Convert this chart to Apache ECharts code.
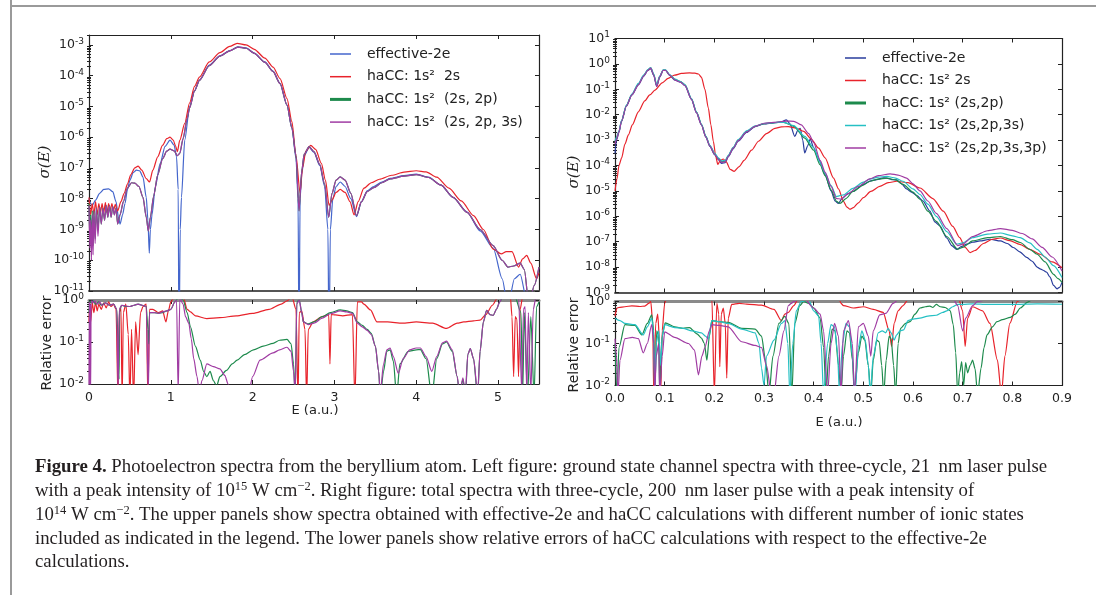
<!DOCTYPE html>
<html><head><meta charset="utf-8">
<script src="https://cdn.jsdelivr.net/npm/echarts@6/dist/echarts.min.js"></script>
<style>html,body{margin:0;padding:0;background:#fff}#c{width:1096px;height:595px}</style>
</head><body><div id="c"></div><script>
// ---------------- tick values ----------------
const LU_YTICKS = [1e-11,1e-10,1e-9,1e-8,1e-7,1e-6,1e-5,1e-4,1e-3];
const ERR_YTICKS = [1e-2,1e-1,1e0];
const RU_YTICKS = [1e-9,1e-8,1e-7,1e-6,1e-5,1e-4,1e-3,1e-2,1e-1,1e0,1e1];
const L_XTICKS = [0,1,2,3,4,5];
const R_XTICKS = [0,0.1,0.2,0.3,0.4,0.5,0.6,0.7,0.8,0.9];

// ---------------- legend names ----------------
const L_NAMES = ['effective-2e','haCC: 1s\u00b2  2s','haCC: 1s\u00b2  (2s, 2p)','haCC: 1s\u00b2  (2s, 2p, 3s)'];
const R_NAMES = ['effective-2e ','haCC: 1s\u00b2 2s','haCC: 1s\u00b2 (2s,2p)','haCC: 1s\u00b2 (2s,2p,3s)','haCC: 1s\u00b2 (2s,2p,3s,3p)'];

// ---------------- left upper: sigma(E), E in a.u. ----------------
const LU_EFF = [[0.00,1.0e-8],[0.02,7e-9],[0.04,6e-9],[0.08,9e-9],[0.13,1.5e-8],[0.18,2.0e-8],[0.24,2.1e-8],[0.29,1.7e-8],[0.33,8e-9],[0.36,2.5e-9],[0.38,1.5e-9],[0.41,3e-9],[0.44,7e-9],[0.47,2e-8],[0.50,4e-8],[0.54,7e-8],[0.58,8.5e-8],[0.62,8e-8],[0.66,5e-8],[0.70,1.1e-8],[0.72,2e-9],[0.737,1.7e-10],[0.75,1e-9],[0.77,3e-9],[0.81,2.4e-8],[0.87,1.4e-7],[0.93,5e-7],[0.99,8e-7],[1.04,5.5e-7],[1.07,2.3e-7],[1.09,2e-8],[1.10,1e-13],[1.115,1e-9],[1.13,1.1e-8],[1.17,8e-7],[1.23,1e-5],[1.29,3.2e-5],[1.35,7.2e-5],[1.47,2.2e-4],[1.60,4.4e-4],[1.72,6.5e-4],[1.82,8.7e-4],[1.92,8e-4],[2.02,5.4e-4],[2.15,2.8e-4],[2.25,1.4e-4],[2.335,5.6e-5],[2.42,1.1e-5],[2.48,2e-6],[2.53,2e-7],[2.555,1e-8],[2.567,1e-13],[2.58,1e-8],[2.60,6e-8],[2.63,2.5e-7],[2.69,4.7e-7],[2.75,3.2e-7],[2.82,1.2e-7],[2.88,2.5e-8],[2.92,1e-9],[2.934,1e-13],[2.95,1e-9],[2.98,1e-8],[3.02,2.5e-8],[3.07,3.5e-8],[3.13,2.5e-8],[3.20,1e-8],[3.27,2.6e-9],[3.33,8e-9],[3.40,1.8e-8],[3.48,2.5e-8],[3.58,3.5e-8],[3.68,4.6e-8],[3.85,5.6e-8],[4.00,6.3e-8],[4.15,5e-8],[4.30,2.8e-8],[4.45,1.1e-8],[4.62,3.7e-9],[4.78,9e-10],[4.94,2.5e-10],[5.05,2.5e-11],[5.12,3e-12],[5.20,2.5e-11],[5.27,3.5e-11],[5.35,5e-12],[5.42,1e-12],[5.50,6e-12]];
const LU_2S = [[0.00,1.1e-8],[0.02,3e-9],[0.04,7e-9],[0.06,3e-9],[0.08,8e-9],[0.10,3e-9],[0.12,7e-9],[0.14,3.5e-9],[0.16,7e-9],[0.18,3.5e-9],[0.20,7.5e-9],[0.22,3.5e-9],[0.24,7e-9],[0.26,4e-9],[0.28,7e-9],[0.30,4e-9],[0.32,6.5e-9],[0.35,4e-9],[0.39,8e-9],[0.43,1.5e-8],[0.47,3e-8],[0.51,6e-8],[0.56,1e-7],[0.60,1.15e-7],[0.645,8.5e-8],[0.70,4.5e-8],[0.74,3.5e-8],[0.78,8.5e-8],[0.84,2.3e-7],[0.90,5.5e-7],[0.95,9e-7],[0.99,1.0e-6],[1.03,8e-7],[1.06,5e-7],[1.08,3.4e-7],[1.11,8e-7],[1.17,2.8e-6],[1.23,1.3e-5],[1.29,4.5e-5],[1.35,9e-5],[1.47,2.8e-4],[1.60,5.6e-4],[1.72,8.9e-4],[1.81,1.13e-3],[1.92,1.0e-3],[2.02,7.2e-4],[2.15,3.7e-4],[2.25,1.9e-4],[2.335,8e-5],[2.42,1.8e-5],[2.48,3.2e-6],[2.53,2.5e-7],[2.58,1.5e-8],[2.61,1e-7],[2.65,3.5e-7],[2.71,5.4e-7],[2.77,4e-7],[2.84,1.4e-7],[2.89,4e-8],[2.935,6e-9],[2.97,9e-9],[3.02,1.6e-8],[3.07,2.0e-8],[3.13,1.6e-8],[3.19,8e-9],[3.24,3e-9],[3.29,8e-9],[3.36,2.2e-8],[3.45,3.3e-8],[3.55,4.3e-8],[3.70,5.8e-8],[3.85,7.3e-8],[4.00,8.1e-8],[4.12,7.5e-8],[4.25,5e-8],[4.40,2.2e-8],[4.55,8.5e-9],[4.70,2.8e-9],[4.82,1.0e-9],[4.94,2.3e-10],[5.04,1.6e-10],[5.10,1.9e-10],[5.17,1.9e-10],[5.25,6e-11],[5.30,1.1e-10],[5.35,1.45e-10],[5.40,8e-11],[5.47,2.5e-11],[5.50,4e-11]];
const LU_2S2P = [[0.00,7e-9],[0.01,5e-10],[0.02,3e-9],[0.03,2e-10],[0.04,4e-9],[0.05,3e-10],[0.06,4e-9],[0.075,5e-10],[0.09,5e-9],[0.11,1e-9],[0.13,5.5e-9],[0.15,1.5e-9],[0.17,5e-9],[0.19,2e-9],[0.21,6e-9],[0.23,2.5e-9],[0.25,6e-9],[0.27,2.5e-9],[0.29,5.5e-9],[0.31,3e-9],[0.33,5e-9],[0.35,1.5e-9],[0.38,3e-9],[0.42,8e-9],[0.47,2.2e-8],[0.52,3.3e-8],[0.56,3.2e-8],[0.61,2.5e-8],[0.66,1.1e-8],[0.70,2.5e-9],[0.725,9e-10],[0.75,2.5e-9],[0.79,1.2e-8],[0.84,6e-8],[0.90,2e-7],[0.95,3.5e-7],[0.99,4.1e-7],[1.04,3.6e-7],[1.08,2.5e-7],[1.11,3e-7],[1.15,9e-7],[1.20,4e-6],[1.23,9e-6],[1.29,3.2e-5],[1.35,7e-5],[1.47,2.1e-4],[1.60,4.3e-4],[1.72,6.4e-4],[1.82,8.5e-4],[1.92,7.8e-4],[2.02,5.3e-4],[2.15,2.7e-4],[2.25,1.35e-4],[2.335,5.5e-5],[2.42,1.1e-5],[2.48,2e-6],[2.53,2.5e-7],[2.567,4e-9],[2.60,8e-8],[2.63,2.8e-7],[2.69,4.9e-7],[2.75,3.4e-7],[2.82,1.3e-7],[2.88,3e-8],[2.93,2.5e-9],[2.97,1.5e-8],[3.02,4e-8],[3.07,5.1e-8],[3.13,4e-8],[3.20,1.5e-8],[3.27,2.8e-9],[3.33,8e-9],[3.40,1.7e-8],[3.48,2.3e-8],[3.58,3.3e-8],[3.68,4.4e-8],[3.85,5.4e-8],[4.00,6.1e-8],[4.15,4.9e-8],[4.30,2.8e-8],[4.45,1.1e-8],[4.62,3.6e-9],[4.78,1e-9],[4.94,3e-10],[5.05,1e-10],[5.12,6e-11],[5.19,6.5e-11],[5.27,8e-11],[5.32,5e-11],[5.38,3e-12],[5.44,1.5e-11],[5.50,6e-11]];
const LU_2S2P3S = [[0.00,6e-9],[0.01,2.5e-10],[0.02,2e-9],[0.03,1e-10],[0.04,3e-9],[0.05,1.5e-10],[0.06,4e-9],[0.075,3.5e-10],[0.09,5e-9],[0.11,6e-10],[0.13,5.5e-9],[0.15,1.5e-9],[0.17,5e-9],[0.19,2e-9],[0.21,6e-9],[0.23,2.5e-9],[0.25,6e-9],[0.27,2.5e-9],[0.29,5.5e-9],[0.31,3e-9],[0.33,5e-9],[0.35,1.5e-9],[0.38,3e-9],[0.42,8e-9],[0.47,2.2e-8],[0.52,3.3e-8],[0.56,3.2e-8],[0.61,2.5e-8],[0.66,1.1e-8],[0.70,2.5e-9],[0.725,9e-10],[0.75,2.5e-9],[0.79,1.2e-8],[0.84,6e-8],[0.90,2e-7],[0.95,3.5e-7],[0.99,4.1e-7],[1.04,3.6e-7],[1.08,2.5e-7],[1.11,3e-7],[1.15,9e-7],[1.20,4e-6],[1.23,9e-6],[1.29,3.2e-5],[1.35,7e-5],[1.47,2.1e-4],[1.60,4.3e-4],[1.72,6.4e-4],[1.82,8.5e-4],[1.92,7.8e-4],[2.02,5.3e-4],[2.15,2.7e-4],[2.25,1.35e-4],[2.335,5.5e-5],[2.42,1.1e-5],[2.48,2e-6],[2.53,2.5e-7],[2.567,4e-9],[2.60,8e-8],[2.63,2.8e-7],[2.69,4.9e-7],[2.75,3.4e-7],[2.82,1.3e-7],[2.88,3e-8],[2.93,2.5e-9],[2.97,1.5e-8],[3.02,4e-8],[3.07,5.1e-8],[3.13,4e-8],[3.20,1.5e-8],[3.27,2.8e-9],[3.33,8e-9],[3.40,1.7e-8],[3.48,2.3e-8],[3.58,3.3e-8],[3.68,4.4e-8],[3.85,5.4e-8],[4.00,6.1e-8],[4.15,4.9e-8],[4.30,2.8e-8],[4.45,1.1e-8],[4.62,3.6e-9],[4.78,1e-9],[4.94,3e-10],[5.05,1e-10],[5.12,6e-11],[5.19,6.5e-11],[5.27,8e-11],[5.32,5e-11],[5.38,3e-12],[5.44,1.5e-11],[5.50,6e-11]];

// ---------------- left lower: relative error ----------------
const LL_2S = [[0.00,0.3],[0.01,0.9],[0.02,0.3],[0.04,0.85],[0.06,0.5],[0.08,0.9],[0.10,0.55],[0.12,0.8],[0.15,0.6],[0.18,0.85],[0.21,0.65],[0.24,0.9],[0.27,0.7],[0.30,0.8],[0.33,0.6],[0.355,0.004],[0.37,0.5],[0.39,0.7],[0.405,0.004],[0.42,0.5],[0.45,0.8],[0.48,0.15],[0.50,0.004],[0.52,0.2],[0.545,0.004],[0.57,0.3],[0.60,0.05],[0.63,0.5],[0.66,0.7],[0.70,0.8],[0.72,0.004],[0.74,0.6],[0.78,0.6],[0.85,0.5],[0.90,0.55],[0.94,0.3],[0.97,0.55],[1.00,0.9],[1.05,1.3],[1.10,1.5],[1.15,1.2],[1.20,0.6],[1.24,0.52],[1.30,0.42],[1.44,0.36],[1.60,0.38],[1.80,0.42],[2.00,0.48],[2.20,0.6],[2.35,0.8],[2.42,0.95],[2.48,1.2],[2.53,0.6],[2.555,0.004],[2.57,0.5],[2.60,0.55],[2.64,0.2],[2.66,0.004],[2.68,0.2],[2.74,0.3],[2.85,0.4],[2.93,0.45],[2.945,0.03],[2.96,0.45],[3.01,0.44],[3.10,0.42],[3.22,0.45],[3.25,0.004],[3.28,0.9],[3.33,0.9],[3.36,0.8],[3.44,0.58],[3.52,0.3],[3.65,0.3],[3.83,0.28],[4.00,0.3],[4.20,0.28],[4.37,0.21],[4.50,0.28],[4.58,0.3],[4.70,0.32],[4.78,0.33],[4.85,0.45],[4.93,0.75],[4.99,1.1],[5.10,1.5],[5.15,1.2],[5.17,0.4],[5.19,0.015],[5.21,0.4],[5.23,0.35],[5.25,0.015],[5.27,0.6],[5.30,1.2],[5.50,1.4]];
const LL_2S2P = [[0.00,0.5],[0.01,0.95],[0.03,0.85],[0.05,0.95],[0.08,0.8],[0.12,0.9],[0.15,0.75],[0.20,0.85],[0.25,0.75],[0.30,0.8],[0.34,0.6],[0.36,0.04],[0.367,0.013],[0.375,0.6],[0.40,0.75],[0.45,0.7],[0.50,0.7],[0.55,0.75],[0.60,0.8],[0.65,0.75],[0.70,0.7],[0.72,0.2],[0.73,0.09],[0.74,0.5],[0.80,0.5],[0.85,0.48],[0.90,0.5],[0.95,0.55],[1.00,0.6],[1.05,0.9],[1.10,1.2],[1.15,1.0],[1.20,0.5],[1.24,0.23],[1.30,0.08],[1.36,0.037],[1.40,0.02],[1.44,0.015],[1.48,0.02],[1.52,0.012],[1.56,0.009],[1.60,0.015],[1.68,0.021],[1.75,0.03],[1.81,0.037],[1.90,0.05],[2.01,0.065],[2.13,0.08],[2.25,0.093],[2.33,0.11],[2.42,0.115],[2.47,0.09],[2.50,0.03],[2.52,0.005],[2.54,0.9],[2.57,1.0],[2.60,0.5],[2.62,0.3],[2.68,0.27],[2.75,0.3],[2.85,0.4],[2.95,0.5],[3.07,0.58],[3.15,0.55],[3.22,0.5],[3.28,0.3],[3.34,0.25],[3.40,0.2],[3.45,0.16],[3.50,0.08],[3.54,0.02],[3.56,0.005],[3.60,0.02],[3.64,0.06],[3.68,0.065],[3.72,0.035],[3.76,0.005],[3.80,0.03],[3.90,0.06],[4.00,0.065],[4.05,0.066],[4.12,0.04],[4.19,0.005],[4.25,0.04],[4.32,0.09],[4.37,0.1],[4.44,0.06],[4.50,0.015],[4.53,0.005],[4.57,0.013],[4.60,0.005],[4.63,0.05],[4.66,0.07],[4.70,0.04],[4.75,0.005],[4.78,0.06],[4.82,0.3],[4.86,0.57],[4.90,0.45],[4.94,0.43],[4.98,0.6],[5.02,0.9],[5.06,1.2],[5.20,1.3],[5.28,0.5],[5.30,0.005],[5.32,0.5],[5.36,0.005],[5.40,0.4],[5.44,0.005],[5.47,0.7],[5.50,0.9]];
const LL_2S2P3S = [[0.00,0.006],[0.005,0.9],[0.01,0.006],[0.015,0.8],[0.02,0.006],[0.025,0.85],[0.035,0.95],[0.05,0.85],[0.07,0.95],[0.10,0.8],[0.13,0.9],[0.16,0.75],[0.20,0.85],[0.25,0.75],[0.30,0.8],[0.34,0.6],[0.355,0.006],[0.37,0.6],[0.40,0.75],[0.45,0.72],[0.50,0.7],[0.55,0.75],[0.60,0.8],[0.65,0.75],[0.70,0.7],[0.725,0.006],[0.74,0.5],[0.80,0.5],[0.85,0.48],[0.90,0.52],[0.95,0.55],[1.00,0.6],[1.05,0.9],[1.07,1.0],[1.09,0.006],[1.11,1.1],[1.15,0.8],[1.18,0.4],[1.22,0.28],[1.25,0.12],[1.28,0.04],[1.32,0.015],[1.35,0.006],[1.38,0.012],[1.44,0.03],[1.52,0.026],[1.60,0.023],[1.66,0.016],[1.70,0.01],[1.74,0.006],[1.95,0.006],[2.00,0.015],[2.09,0.037],[2.25,0.055],[2.33,0.065],[2.42,0.075],[2.47,0.06],[2.50,0.02],[2.52,0.006],[2.54,0.8],[2.57,1.0],[2.60,0.5],[2.62,0.3],[2.68,0.26],[2.75,0.28],[2.85,0.37],[2.95,0.47],[3.07,0.55],[3.15,0.52],[3.22,0.48],[3.28,0.28],[3.34,0.23],[3.40,0.19],[3.45,0.15],[3.50,0.08],[3.54,0.02],[3.56,0.006],[3.60,0.03],[3.64,0.065],[3.68,0.072],[3.72,0.045],[3.78,0.018],[3.84,0.04],[3.92,0.065],[4.00,0.072],[4.05,0.072],[4.12,0.045],[4.19,0.02],[4.25,0.045],[4.32,0.095],[4.37,0.105],[4.44,0.065],[4.50,0.015],[4.53,0.006],[4.57,0.014],[4.60,0.006],[4.63,0.05],[4.66,0.07],[4.70,0.04],[4.75,0.006],[4.78,0.06],[4.82,0.3],[4.86,0.57],[4.90,0.45],[4.94,0.43],[4.98,0.6],[5.02,0.9],[5.06,1.2],[5.25,1.2],[5.29,0.006],[5.31,0.6],[5.33,0.7],[5.35,0.006],[5.37,0.5],[5.40,0.006],[5.43,0.6],[5.46,1.1],[5.50,1.2]];

// ---------------- right upper: sigma(E) ----------------
const RU_EFF = [[0.000,3e-4],[0.003,1e-3],[0.008,2e-3],[0.013,5.4e-3],[0.023,2.2e-2],[0.034,6e-2],[0.047,0.15],[0.058,0.33],[0.066,0.55],[0.072,0.65],[0.078,0.35],[0.084,0.13],[0.090,0.3],[0.097,0.55],[0.102,0.55],[0.110,0.35],[0.121,0.23],[0.132,0.19],[0.141,0.14],[0.154,0.04],[0.164,0.012],[0.174,4e-3],[0.183,1.3e-3],[0.191,5.6e-4],[0.201,2.6e-4],[0.208,1.7e-4],[0.215,1.2e-4],[0.222,1.3e-4],[0.228,2.2e-4],[0.238,4.5e-4],[0.248,9e-4],[0.265,2e-3],[0.282,3.4e-3],[0.300,4.3e-3],[0.320,4.8e-3],[0.335,5.2e-3],[0.345,6.3e-3],[0.352,4.5e-3],[0.362,1.4e-3],[0.368,2.4e-3],[0.373,2.9e-3],[0.378,1e-3],[0.382,3.1e-4],[0.388,6e-4],[0.393,1.1e-3],[0.400,5e-4],[0.409,2e-4],[0.423,4.4e-5],[0.435,1e-5],[0.443,4e-6],[0.450,3.2e-6],[0.457,5e-6],[0.468,7.5e-6],[0.479,9.5e-6],[0.500,1.8e-5],[0.515,2.5e-5],[0.527,2.8e-5],[0.540,3.3e-5],[0.547,3.2e-5],[0.557,2.8e-5],[0.567,2.7e-5],[0.577,1.9e-5],[0.587,1.2e-5],[0.597,9e-6],[0.608,6.5e-6],[0.620,4e-6],[0.634,1.6e-6],[0.644,6e-7],[0.654,4.2e-7],[0.668,1.4e-7],[0.678,7e-8],[0.688,5e-8],[0.698,6.5e-8],[0.708,8e-8],[0.720,9.5e-8],[0.735,1.07e-7],[0.755,1.25e-7],[0.776,1.07e-7],[0.790,8.5e-8],[0.802,5.9e-8],[0.815,4e-8],[0.829,2.4e-8],[0.840,1.7e-8],[0.850,1e-8],[0.856,8.5e-9],[0.862,7.5e-9],[0.869,6.3e-9],[0.876,4e-9],[0.883,1.9e-9],[0.890,1.4e-9],[0.895,1.6e-9],[0.900,2.5e-9]];
const RU_2S = [[0.000,1e-5],[0.004,3e-5],[0.008,1e-4],[0.0134,2e-4],[0.020,7e-4],[0.027,1.6e-3],[0.035,4e-3],[0.047,1.3e-2],[0.060,3.5e-2],[0.070,6e-2],[0.0805,9.3e-2],[0.095,0.18],[0.107,0.27],[0.120,0.36],[0.134,0.42],[0.150,0.44],[0.161,0.43],[0.168,0.4],[0.174,0.3],[0.181,0.1],[0.188,0.018],[0.193,4e-3],[0.198,9e-4],[0.203,2.2e-4],[0.207,1.1e-4],[0.212,1.6e-4],[0.218,1.8e-4],[0.224,1.4e-4],[0.232,7e-5],[0.240,5.9e-5],[0.250,9e-5],[0.260,1.6e-4],[0.275,4e-4],[0.289,9e-4],[0.305,1.8e-3],[0.322,2.9e-3],[0.335,3.3e-3],[0.349,3.4e-3],[0.365,3e-3],[0.380,2.2e-3],[0.395,1.1e-3],[0.410,4.8e-4],[0.423,2e-4],[0.440,3.2e-5],[0.450,1.2e-5],[0.460,3.9e-6],[0.467,2.3e-6],[0.473,1.9e-6],[0.480,2.2e-6],[0.490,3.4e-6],[0.500,5.4e-6],[0.515,9.5e-6],[0.533,1.5e-5],[0.550,2.1e-5],[0.567,2.4e-5],[0.590,2.1e-5],[0.614,1.3e-5],[0.640,5e-6],[0.661,1.6e-6],[0.680,4e-7],[0.694,1.45e-7],[0.705,6e-8],[0.715,3.7e-8],[0.725,4.5e-8],[0.742,8.5e-8],[0.760,1.25e-7],[0.776,1.4e-7],[0.795,1.1e-7],[0.815,7.9e-8],[0.835,5e-8],[0.856,3.2e-8],[0.880,1.6e-8],[0.900,9.5e-9]];
const RU_2S2P = [[0.000,8e-4],[0.003,1.2e-3],[0.008,2.2e-3],[0.013,5.6e-3],[0.023,2.3e-2],[0.034,6.2e-2],[0.047,0.16],[0.058,0.35],[0.066,0.58],[0.072,0.7],[0.078,0.38],[0.084,0.14],[0.090,0.32],[0.097,0.57],[0.102,0.57],[0.110,0.37],[0.121,0.24],[0.132,0.2],[0.141,0.15],[0.154,0.042],[0.164,0.013],[0.174,4.2e-3],[0.183,1.4e-3],[0.191,6e-4],[0.201,2.8e-4],[0.208,1.9e-4],[0.215,1.4e-4],[0.222,1.5e-4],[0.228,2.4e-4],[0.238,5e-4],[0.248,1e-3],[0.265,2.2e-3],[0.282,3.5e-3],[0.300,4.4e-3],[0.320,4.9e-3],[0.340,5e-3],[0.360,3.5e-3],[0.382,1.2e-3],[0.400,4e-4],[0.413,1.07e-4],[0.423,4e-5],[0.435,1.1e-5],[0.446,3.9e-6],[0.453,3.2e-6],[0.465,5e-6],[0.479,9.5e-6],[0.500,1.7e-5],[0.513,2.4e-5],[0.530,2.9e-5],[0.547,3.2e-5],[0.565,2.7e-5],[0.580,1.8e-5],[0.600,9e-6],[0.614,4.7e-6],[0.630,1.6e-6],[0.647,6.3e-7],[0.668,1.6e-7],[0.690,5e-8],[0.700,6e-8],[0.720,1.07e-7],[0.750,1.45e-7],[0.776,1.6e-7],[0.800,1.2e-7],[0.816,9.3e-8],[0.835,5e-8],[0.850,3.2e-8],[0.866,1.6e-8],[0.883,5.2e-9],[0.892,3.5e-9],[0.900,2.5e-9]];
const RU_2S2P3S = [[0.000,9e-4],[0.003,1.3e-3],[0.008,2.3e-3],[0.013,5.8e-3],[0.023,2.4e-2],[0.034,6.4e-2],[0.047,0.17],[0.058,0.37],[0.066,0.6],[0.072,0.72],[0.078,0.4],[0.084,0.15],[0.090,0.33],[0.097,0.58],[0.102,0.58],[0.110,0.38],[0.121,0.25],[0.132,0.2],[0.141,0.15],[0.154,0.043],[0.164,0.013],[0.174,4.3e-3],[0.183,1.4e-3],[0.191,6.2e-4],[0.201,3e-4],[0.208,2e-4],[0.215,1.5e-4],[0.222,1.6e-4],[0.228,2.5e-4],[0.238,5.2e-4],[0.248,1.05e-3],[0.265,2.3e-3],[0.282,3.6e-3],[0.300,4.5e-3],[0.320,4.9e-3],[0.340,5e-3],[0.360,3.7e-3],[0.382,1.4e-3],[0.400,5e-4],[0.413,1.3e-4],[0.423,5e-5],[0.435,1.6e-5],[0.446,6e-6],[0.453,6.5e-6],[0.460,7e-6],[0.479,1.26e-5],[0.500,2.2e-5],[0.513,2.9e-5],[0.530,3.5e-5],[0.547,3.7e-5],[0.565,3.2e-5],[0.580,2.4e-5],[0.600,1.2e-5],[0.614,7.2e-6],[0.630,3e-6],[0.647,1e-6],[0.668,2.5e-7],[0.688,8e-8],[0.700,9e-8],[0.720,1.45e-7],[0.750,2e-7],[0.776,2.2e-7],[0.800,1.7e-7],[0.816,1.45e-7],[0.835,9e-8],[0.850,5e-8],[0.866,2.5e-8],[0.883,1.15e-8],[0.900,3.9e-9]];
const RU_2S2P3S3P = [[0.000,7e-4],[0.003,1.1e-3],[0.008,2.1e-3],[0.013,5.5e-3],[0.023,2.2e-2],[0.034,6e-2],[0.047,0.15],[0.058,0.34],[0.066,0.56],[0.072,0.68],[0.078,0.36],[0.084,0.13],[0.090,0.31],[0.097,0.56],[0.102,0.56],[0.110,0.36],[0.121,0.23],[0.132,0.19],[0.141,0.14],[0.154,0.04],[0.164,0.012],[0.174,4e-3],[0.183,1.3e-3],[0.191,5.8e-4],[0.201,2.7e-4],[0.208,1.8e-4],[0.215,1.3e-4],[0.222,1.4e-4],[0.228,2.3e-4],[0.238,4.8e-4],[0.248,9.5e-4],[0.265,2.1e-3],[0.282,3.5e-3],[0.300,4.6e-3],[0.320,5e-3],[0.345,5.6e-3],[0.360,5.5e-3],[0.375,4e-3],[0.390,1.8e-3],[0.400,8e-4],[0.413,1.6e-4],[0.423,5.5e-5],[0.435,1.5e-5],[0.446,5e-6],[0.455,4.8e-6],[0.470,8e-6],[0.490,1.5e-5],[0.513,3e-5],[0.530,4e-5],[0.554,4.7e-5],[0.570,4.2e-5],[0.587,3.2e-5],[0.600,1.9e-5],[0.614,1e-5],[0.630,4e-6],[0.647,1.3e-6],[0.668,3.3e-7],[0.690,7e-8],[0.700,8e-8],[0.720,1.6e-7],[0.750,2.7e-7],[0.776,3.3e-7],[0.800,2.8e-7],[0.820,2.1e-7],[0.840,1.3e-7],[0.860,6e-8],[0.880,2.5e-8],[0.900,7e-9]];

// ---------------- right lower: relative error ----------------
const RL_2S = [[0.000,0.45],[0.004,0.7],[0.008,0.72],[0.020,0.75],[0.034,0.79],[0.050,0.76],[0.060,0.78],[0.068,0.9],[0.072,1.0],[0.076,0.3],[0.078,0.006],[0.082,0.3],[0.086,0.5],[0.090,0.1],[0.092,0.006],[0.095,0.2],[0.100,0.9],[0.104,1.2],[0.120,1.5],[0.160,1.5],[0.195,1.2],[0.200,0.006],[0.205,0.9],[0.209,0.5],[0.211,0.028],[0.214,0.5],[0.218,0.7],[0.222,0.3],[0.225,0.015],[0.228,0.4],[0.235,0.85],[0.250,0.9],[0.265,0.87],[0.295,0.82],[0.320,0.65],[0.335,0.35],[0.342,0.5],[0.349,0.55],[0.360,0.8],[0.370,1.2],[0.400,1.5],[0.450,1.3],[0.455,0.9],[0.460,0.8],[0.480,0.7],[0.500,0.75],[0.520,0.65],[0.540,0.55],[0.552,0.2],[0.557,0.085],[0.562,0.3],[0.570,0.6],[0.580,0.8],[0.590,1.1],[0.620,1.5],[0.690,1.4],[0.700,0.6],[0.705,0.085],[0.710,0.4],[0.720,0.75],[0.740,0.6],[0.755,0.3],[0.770,0.04],[0.778,0.006],[0.785,0.05],[0.795,0.3],[0.810,1.0],[0.830,1.5],[0.900,1.5]];
const RL_2S2P = [[0.000,0.1],[0.004,0.006],[0.008,0.08],[0.020,0.28],[0.040,0.27],[0.054,0.16],[0.065,0.3],[0.074,0.48],[0.078,0.2],[0.080,0.006],[0.084,0.2],[0.088,0.15],[0.090,0.006],[0.095,0.15],[0.101,0.31],[0.120,0.25],[0.137,0.23],[0.150,0.24],[0.165,0.17],[0.174,0.135],[0.180,0.1],[0.185,0.04],[0.190,0.15],[0.195,0.35],[0.210,0.33],[0.228,0.32],[0.255,0.23],[0.282,0.22],[0.295,0.15],[0.303,0.04],[0.310,0.006],[0.318,0.05],[0.330,0.3],[0.342,0.44],[0.350,0.3],[0.356,0.006],[0.362,0.3],[0.372,0.8],[0.380,1.0],[0.390,0.9],[0.400,0.7],[0.413,0.4],[0.420,0.08],[0.425,0.006],[0.430,0.05],[0.437,0.22],[0.443,0.2],[0.450,0.03],[0.455,0.006],[0.460,0.05],[0.467,0.2],[0.472,0.18],[0.478,0.04],[0.482,0.006],[0.490,0.06],[0.497,0.15],[0.503,0.12],[0.510,0.03],[0.515,0.006],[0.520,0.04],[0.527,0.12],[0.532,0.11],[0.537,0.03],[0.541,0.006],[0.546,0.04],[0.552,0.15],[0.556,0.13],[0.561,0.03],[0.565,0.006],[0.570,0.1],[0.575,0.23],[0.585,0.3],[0.594,0.33],[0.604,0.5],[0.614,0.7],[0.625,0.75],[0.634,0.78],[0.640,0.72],[0.647,0.85],[0.655,0.75],[0.665,0.72],[0.675,0.6],[0.681,0.28],[0.686,0.06],[0.690,0.006],[0.694,0.02],[0.698,0.037],[0.702,0.01],[0.706,0.035],[0.710,0.02],[0.715,0.03],[0.720,0.04],[0.725,0.025],[0.730,0.006],[0.737,0.026],[0.743,0.08],[0.749,0.16],[0.760,0.25],[0.769,0.33],[0.780,0.37],[0.796,0.42],[0.806,0.5],[0.816,0.7],[0.830,0.95],[0.840,1.1],[0.900,1.3]];
const RL_2S2P3S = [[0.000,0.4],[0.010,0.35],[0.020,0.3],[0.040,0.28],[0.057,0.16],[0.065,0.25],[0.074,0.4],[0.078,0.15],[0.080,0.006],[0.083,0.1],[0.088,0.2],[0.092,0.03],[0.095,0.15],[0.100,0.28],[0.120,0.24],[0.137,0.23],[0.155,0.2],[0.174,0.18],[0.182,0.15],[0.188,0.13],[0.195,0.35],[0.210,0.33],[0.228,0.3],[0.255,0.22],[0.282,0.18],[0.290,0.1],[0.295,0.026],[0.300,0.01],[0.305,0.05],[0.320,0.12],[0.335,0.3],[0.342,0.35],[0.348,0.1],[0.352,0.006],[0.358,0.1],[0.365,0.6],[0.375,1.0],[0.390,1.1],[0.400,0.6],[0.410,0.45],[0.415,0.1],[0.420,0.006],[0.428,0.1],[0.435,0.28],[0.442,0.25],[0.448,0.06],[0.452,0.006],[0.458,0.1],[0.465,0.3],[0.472,0.25],[0.478,0.05],[0.483,0.006],[0.490,0.08],[0.497,0.2],[0.504,0.12],[0.510,0.03],[0.514,0.006],[0.520,0.05],[0.530,0.18],[0.538,0.2],[0.545,0.18],[0.550,0.23],[0.556,0.18],[0.562,0.12],[0.567,0.16],[0.574,0.2],[0.581,0.21],[0.590,0.35],[0.600,0.38],[0.614,0.4],[0.630,0.45],[0.647,0.47],[0.660,0.55],[0.668,0.6],[0.680,0.75],[0.690,0.85],[0.700,0.85],[0.720,0.88],[0.750,0.85],[0.800,0.85],[0.850,0.88],[0.900,0.86]];
const RL_2S2P3S3P = [[0.000,0.13],[0.003,0.05],[0.006,0.006],[0.010,0.04],[0.020,0.13],[0.035,0.14],[0.047,0.13],[0.057,0.06],[0.065,0.1],[0.074,0.28],[0.078,0.1],[0.080,0.006],[0.083,0.05],[0.088,0.1],[0.090,0.006],[0.095,0.05],[0.100,0.19],[0.120,0.14],[0.148,0.1],[0.160,0.07],[0.168,0.018],[0.175,0.05],[0.181,0.08],[0.190,0.2],[0.195,0.28],[0.210,0.27],[0.228,0.25],[0.255,0.11],[0.282,0.09],[0.295,0.08],[0.305,0.03],[0.315,0.006],[0.320,0.006],[0.330,0.05],[0.340,0.2],[0.349,0.8],[0.355,0.9],[0.360,1.0],[0.380,1.2],[0.400,0.7],[0.413,0.5],[0.420,0.2],[0.428,0.006],[0.435,0.1],[0.442,0.3],[0.450,0.15],[0.455,0.006],[0.460,0.2],[0.470,0.35],[0.478,0.1],[0.482,0.006],[0.490,0.25],[0.500,0.3],[0.510,0.15],[0.515,0.05],[0.520,0.2],[0.533,0.48],[0.545,0.52],[0.560,0.9],[0.570,1.1],[0.600,1.3],[0.680,1.2],[0.690,0.8],[0.700,0.2],[0.706,0.4],[0.720,0.8],[0.730,1.0],[0.760,1.2],[0.900,1.3]];

// ---------------- colours ----------------
const C_BLUE_L = '#4466cc', C_BLUE_R = '#283c9c', C_RED = '#e8232b', C_GREEN = '#1d8a4c', C_PURPLE = '#a03ca3', C_CYAN = '#26c0c4';
const INK = '#222';
const FONT = 'DejaVu Sans';

function minorVals(lo, hi) {
  const a = [];
  for (let e = lo; e < hi; e++) for (let k = 2; k <= 9; k++) a.push(k * Math.pow(10, e));
  return a;
}
const logRich = {
  b: {fontSize: 12.5, fontFamily: FONT, color: INK, lineHeight: 16},
  s: {fontSize: 9, fontFamily: FONT, color: INK, lineHeight: 9, verticalAlign: 'top'}
};
function logFmt(v) { return '{b|10}{s|' + Math.round(Math.log10(v)) + '}'; }

function xPair(grid, min, max, ticks, labels, fmt, bottomLine, topLine) {
  return [
    {type: 'value', gridIndex: grid, position: 'bottom', min: min, max: max, interval: ticks[1] - ticks[0],
     axisLine: {show: true, onZero: false, lineStyle: bottomLine},
     axisTick: {show: true, inside: true, length: 4, lineStyle: {color: INK}, customValues: ticks},
     axisLabel: {show: labels, customValues: ticks, formatter: fmt, fontFamily: FONT, fontSize: 12.5, color: INK, margin: 7},
     splitLine: {show: false}},
    {type: 'value', gridIndex: grid, position: 'top', min: min, max: max, interval: ticks[1] - ticks[0],
     axisLine: {show: true, onZero: false, lineStyle: topLine},
     axisTick: {show: true, inside: true, length: 4, lineStyle: {color: INK}, customValues: ticks},
     axisLabel: {show: false}, splitLine: {show: false}}
  ];
}
function yQuad(grid, min, max, ticks, lo, hi) {
  const minors = minorVals(lo, hi).filter(v => v > min * 1.0001 && v < max * 0.9999);
  const line = {color: INK, width: 1.2};
  const base = {type: 'log', logBase: 10, gridIndex: grid, min: min, max: max, splitNumber: 10, splitLine: {show: false}};
  return [
    Object.assign({}, base, {position: 'left', axisLine: {show: true, onZero: false, lineStyle: line},
      axisTick: {show: true, inside: true, length: 4, lineStyle: {color: INK}, customValues: ticks},
      axisLabel: {show: true, customValues: ticks, formatter: logFmt, rich: logRich, margin: 5}}),
    Object.assign({}, base, {position: 'left', axisLine: {show: false},
      axisTick: {show: true, inside: true, length: 2, lineStyle: {color: INK}, customValues: minors},
      axisLabel: {show: false}}),
    Object.assign({}, base, {position: 'right', axisLine: {show: true, onZero: false, lineStyle: line},
      axisTick: {show: true, inside: true, length: 4, lineStyle: {color: INK}, customValues: ticks},
      axisLabel: {show: false}}),
    Object.assign({}, base, {position: 'right', axisLine: {show: false},
      axisTick: {show: true, inside: true, length: 2, lineStyle: {color: INK}, customValues: minors},
      axisLabel: {show: false}})
  ];
}
const thin = {color: INK, width: 1.2};
const upperBottom = {color: '#555', width: 2};
const lowerTop = {color: '#8a8a8a', width: 3};
const intFmt = v => String(Math.round(v));
const decFmt = v => v.toFixed(1);

const xAxis = [].concat(
  xPair(0, 0, 5.5, L_XTICKS, false, intFmt, upperBottom, thin),
  xPair(1, 0, 5.5, L_XTICKS, true, intFmt, thin, lowerTop),
  xPair(2, 0, 0.9, R_XTICKS, false, decFmt, upperBottom, thin),
  xPair(3, 0, 0.9, R_XTICKS, true, decFmt, thin, lowerTop)
);
const yAxis = [].concat(
  yQuad(0, 1e-11, 2.1e-3, LU_YTICKS, -11, -2),
  yQuad(1, 1e-2, 1, ERR_YTICKS, -2, 0),
  yQuad(2, 1e-9, 10, RU_YTICKS, -9, 1),
  yQuad(3, 1e-2, 1, ERR_YTICKS, -2, 0)
);

function line(name, data, color, xi, yi, width) {
  return {type: 'line', name: name, data: data, xAxisIndex: xi, yAxisIndex: yi,
    showSymbol: false, symbol: 'none', smooth: 0.25, smoothMonotone: 'x', clip: true,
    lineStyle: {color: color, width: width || 1.2}, itemStyle: {color: color}, emphasis: {disabled: true}, animation: false};
}
const series = [
  line(L_NAMES[0], LU_EFF, C_BLUE_L, 0, 0),
  line(L_NAMES[1], LU_2S, C_RED, 0, 0),
  line(L_NAMES[2], LU_2S2P, C_GREEN, 0, 0),
  line(L_NAMES[3], LU_2S2P3S, C_PURPLE, 0, 0),
  line('err-L-2s', LL_2S, C_RED, 2, 4),
  line('err-L-2s2p', LL_2S2P, C_GREEN, 2, 4),
  line('err-L-2s2p3s', LL_2S2P3S, C_PURPLE, 2, 4),
  line(R_NAMES[0], RU_EFF, C_BLUE_R, 4, 8),
  line(R_NAMES[1], RU_2S, C_RED, 4, 8),
  line(R_NAMES[2], RU_2S2P, C_GREEN, 4, 8),
  line(R_NAMES[3], RU_2S2P3S, C_CYAN, 4, 8),
  line(R_NAMES[4], RU_2S2P3S3P, C_PURPLE, 4, 8),
  line('err-R-2s', RL_2S, C_RED, 6, 12),
  line('err-R-2s2p', RL_2S2P, C_GREEN, 6, 12),
  line('err-R-2s2p3s', RL_2S2P3S, C_CYAN, 6, 12),
  line('err-R-2s2p3s3p', RL_2S2P3S3P, C_PURPLE, 6, 12)
];

const legendText = {fontFamily: FONT, fontSize: 14, color: INK, lineHeight: 16, padding: [0, 0, 0, 11]};
function legendData(names) {
  return names.map(n => ({name: n, icon: (n.indexOf('(2s, 2p)') >= 0 || n.indexOf('(2s,2p)') >= 0) ? 'path://M0,0L21,0L21,3L0,3Z' : 'path://M0,0L21,0L21,1.5L0,1.5Z'}));
}

const CAP = 18.8;
const capRich = {
  b: {fontFamily: 'Liberation Serif', fontSize: CAP, fontWeight: 'bold', color: '#231f20'},
  sup: {fontFamily: 'Liberation Serif', fontSize: 12.5, color: '#231f20', verticalAlign: 'top', lineHeight: 12}
};
function cap(y, text) {
  return {type: 'text', left: 35, top: y - 11, silent: true,
    style: {text: text, fontFamily: 'Liberation Serif', fontSize: CAP, fill: '#231f20', lineHeight: 22, rich: capRich}};
}
function vlabel(x, y, text, font) {
  return {type: 'text', x: x, y: y, rotation: Math.PI / 2, silent: true,
    style: {text: text, font: font, fill: INK, align: 'center', verticalAlign: 'middle'}};
}
function hlabel(x, y, text) {
  return {type: 'text', x: x, y: y, silent: true,
    style: {text: text, font: '13px "DejaVu Sans"', fill: INK, align: 'center', verticalAlign: 'middle'}};
}

const option = {
  backgroundColor: '#fff',
  animation: false,
  grid: [
    {left: 89, top: 35, width: 450, height: 256},
    {left: 89, top: 300, width: 450, height: 84},
    {left: 615, top: 38.5, width: 447, height: 254},
    {left: 615, top: 301.5, width: 447, height: 84}
  ],
  xAxis: xAxis,
  yAxis: yAxis,
  legend: [
    {left: 330, top: 46, orient: 'vertical', padding: 0, itemWidth: 21, itemHeight: 3, itemGap: 6.7,
     selectedMode: false, data: legendData(L_NAMES), textStyle: legendText},
    {left: 845, top: 50, orient: 'vertical', padding: 0, itemWidth: 21, itemHeight: 3, itemGap: 6.5,
     selectedMode: false, data: legendData(R_NAMES), textStyle: legendText}
  ],
  series: series,
  graphic: [
    {type: 'line', silent: true, shape: {x1: 11, y1: 0, x2: 11, y2: 595}, style: {stroke: '#9a9a9a', lineWidth: 2}},
    {type: 'line', silent: true, shape: {x1: 10, y1: 6, x2: 1096, y2: 6}, style: {stroke: '#9a9a9a', lineWidth: 2}},
    vlabel(45, 162, '\u03c3(E)', 'italic 15px "DejaVu Serif"'),
    vlabel(574, 172, '\u03c3(E)', 'italic 15px "DejaVu Serif"'),
    vlabel(47, 343, 'Relative error', '14px "DejaVu Sans"'),
    vlabel(574, 345, 'Relative error', '14px "DejaVu Sans"'),
    hlabel(315, 411, 'E (a.u.)'),
    hlabel(839, 423, 'E (a.u.)'),
    cap(467, '{b|Figure 4.} Photoelectron spectra from the beryllium atom. Left figure: ground state channel spectra with three-cycle, 21\u2009 nm laser pulse'),
    cap(491, 'with a peak intensity of 10{sup|15} W cm{sup|\u22122}. Right figure: total spectra with three-cycle, 200\u2009 nm laser pulse with a peak intensity of'),
    cap(515, '10{sup|14} W cm{sup|\u22122}. The upper panels show spectra obtained with effective-2e and haCC calculations with different number of ionic states'),
    cap(539, 'included as indicated in the legend. The lower panels show relative errors of haCC calculations with respect to the effective-2e'),
    cap(562, 'calculations.')
  ]
};
const chart = echarts.init(document.getElementById('c'));
chart.setOption(option);
</script></body></html>
